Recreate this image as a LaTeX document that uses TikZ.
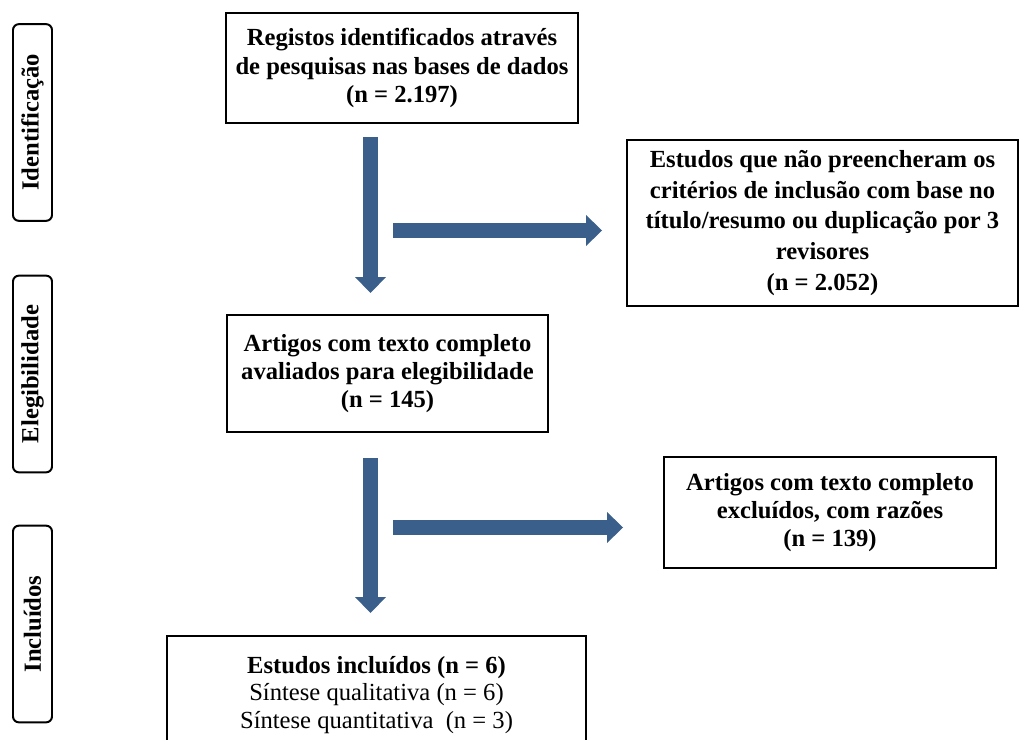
\documentclass[tikz,border=0pt]{standalone}
\usepackage{fontspec}
\setmainfont{Liberation Serif}
\usetikzlibrary{arrows.meta}
\definecolor{arrowblue}{RGB}{58,95,139}
\tikzset{
 flowbox/.style={draw,line width=1.7pt,align=center,inner sep=0pt,font=\fontsize{21}{24.2}\selectfont\bfseries},
 phase/.style={draw,line width=1.7pt,rounded corners=5pt,rotate=90,minimum width=5.9cm,minimum height=1.17cm,inner sep=0pt,font=\fontsize{21}{24}\selectfont\bfseries},
 flowarrow/.style={draw=arrowblue,line width=12.75pt,-{Triangle[width=26.4pt,length=13.6pt,line width=0pt]}}
}
\begin{document}
\begin{tikzpicture}[x=0.03cm,y=-0.03cm]
 \clip (0,0) rectangle (1032,740);
 \fill[white] (0,0) rectangle (1032,740);
 \node[phase] (ident) at (32.5,122.5) {Identificação};
 \node[phase] (eleg) at (32.5,374) {Elegibilidade};
 \node[phase] (incl) at (32.5,624) {Incluídos};
 \node[flowbox,minimum width=10.56cm,minimum height=3.30cm] (regA) at (402,68) {Registos identificados através\\de pesquisas nas bases de dados\\(n = 2.197)};
 \node[flowbox,minimum width=11.73cm,minimum height=4.98cm,font=\fontsize{21}{26.4}\selectfont\bfseries] (excB) at (822.5,223) {Estudos que não preencheram os\\critérios de inclusão com base no\\título/resumo ou duplicação por 3\\revisores\\(n = 2.052)};
 \node[flowbox,minimum width=9.63cm,minimum height=3.51cm] (artC) at (387.5,373.5) {Artigos com texto completo\\avaliados para elegibilidade\\(n = 145)};
 \node[flowbox,minimum width=9.96cm,minimum height=3.33cm] (excD) at (830,512.5) {Artigos com texto completo\\excluídos, com razões\\(n = 139)};
 \node[flowbox,minimum width=12.57cm,minimum height=3.54cm,font=\fontsize{21}{23.2}\selectfont] (incE) at (376.5,695) {\textbf{Estudos incluídos (n = 6)}\\Síntese qualitativa (n = 6)\\Síntese quantitativa~ (n = 3)};
 \coordinate (d1s) at (370.5,137);
 \coordinate (d1e) at (370.5,293);
 \coordinate (r1s) at (393,230.5);
 \coordinate (r1e) at (602,230.5);
 \coordinate (d2s) at (370.5,458);
 \coordinate (d2e) at (370.5,613);
 \coordinate (r2s) at (393,527.5);
 \coordinate (r2e) at (623,527.5);
 \draw[flowarrow] (d1s) -- (d1e);
 \draw[flowarrow] (r1s) -- (r1e);
 \draw[flowarrow] (d2s) -- (d2e);
 \draw[flowarrow] (r2s) -- (r2e);
\end{tikzpicture}
\end{document}
